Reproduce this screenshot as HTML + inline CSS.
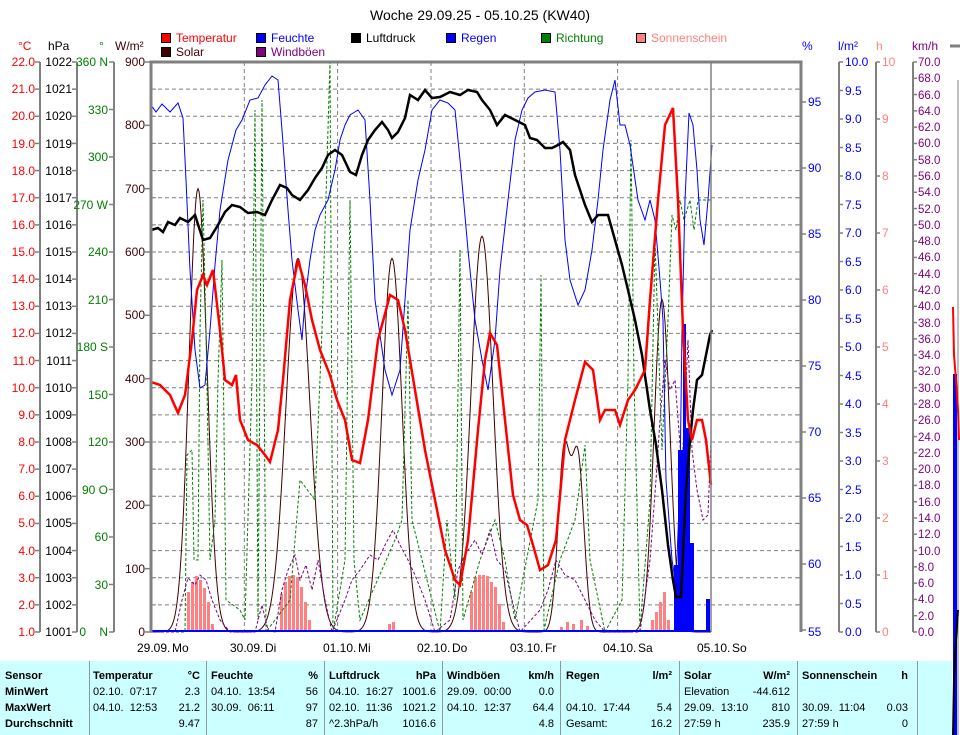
<!DOCTYPE html>
<html><head><meta charset="utf-8"><style>
body{margin:0;width:960px;height:735px;background:#fff;overflow:hidden;position:relative;font-family:"Liberation Sans",sans-serif}
svg{position:absolute;left:0;top:0}
#tbl{position:absolute;left:0;top:661px;width:952px;height:74px;background:#ccffff}
.c{position:absolute;font-size:11px;white-space:nowrap;color:#000}
.b{font-weight:bold}
.r{text-align:right}
.sep{position:absolute;top:0;width:1px;height:74px;background:#8a9a9a}
</style></head><body>
<svg id="s" width="960" height="661" font-family="Liberation Sans, sans-serif" font-size="12">
<text x="480" y="20" text-anchor="middle" font-size="14">Woche 29.09.25 - 05.10.25 (KW40)</text>
<g font-size="12" stroke="#000" stroke-width="1">
<rect x="161.5" y="33.5" width="9" height="9" fill="#ff0000"/>
<rect x="256.5" y="33.5" width="9" height="9" fill="#0000ff"/>
<rect x="351.5" y="33.5" width="9" height="9" fill="#000"/>
<rect x="446.5" y="33.5" width="9" height="9" fill="#0000ff"/>
<rect x="541.5" y="33.5" width="9" height="9" fill="#008000"/>
<rect x="636.5" y="33.5" width="9" height="9" fill="#ff8080"/>
<rect x="161.5" y="47.5" width="9" height="9" fill="#400000"/>
<rect x="256.5" y="47.5" width="9" height="9" fill="#800080"/>
</g>
<g font-size="12">
<text x="176" y="42" fill="#ff0000">Temperatur</text>
<text x="271" y="42" fill="#0000ff">Feuchte</text>
<text x="366" y="42" fill="#000">Luftdruck</text>
<text x="461" y="42" fill="#0000ff">Regen</text>
<text x="556" y="42" fill="#008000">Richtung</text>
<text x="651" y="42" fill="#ff8080">Sonnenschein</text>
<text x="176" y="56" fill="#400000">Solar</text>
<text x="271" y="56" fill="#800080">Windböen</text>
</g>
<text x="18" y="50" fill="#ff0000">°C</text>
<text x="48" y="50" fill="#000">hPa</text>
<text x="99" y="50" fill="#008000">°</text>
<text x="115" y="50" fill="#400000">W/m²</text>
<text x="802" y="50" fill="#0000ff">%</text>
<text x="838" y="50" fill="#0000ff">l/m²</text>
<text x="876" y="50" fill="#ff8080">h</text>
<text x="912" y="50" fill="#800080">km/h</text>
<line x1="950" y1="46" x2="960" y2="46" stroke="#808080" stroke-width="3"/>
<g id="grid"></g>
<g id="axes"></g>
<g id="series"></g>
<g fill="#ff0000" text-anchor="end">
<text x="35" y="66">22.0</text><text x="35" y="93">21.0</text><text x="35" y="120">20.0</text><text x="35" y="148">19.0</text><text x="35" y="175">18.0</text><text x="35" y="202">17.0</text><text x="35" y="229">16.0</text><text x="35" y="256">15.0</text><text x="35" y="283">14.0</text><text x="35" y="310">13.0</text><text x="35" y="337">12.0</text><text x="35" y="365">11.0</text><text x="35" y="392">10.0</text><text x="35" y="419">9.0</text><text x="35" y="446">8.0</text><text x="35" y="473">7.0</text><text x="35" y="500">6.0</text><text x="35" y="527">5.0</text><text x="35" y="555">4.0</text><text x="35" y="582">3.0</text><text x="35" y="609">2.0</text><text x="35" y="636">1.0</text>
</g>
<g fill="#000" text-anchor="end">
<text x="72" y="66">1022</text><text x="72" y="93">1021</text><text x="72" y="120">1020</text><text x="72" y="148">1019</text><text x="72" y="175">1018</text><text x="72" y="202">1017</text><text x="72" y="229">1016</text><text x="72" y="256">1015</text><text x="72" y="283">1014</text><text x="72" y="310">1013</text><text x="72" y="337">1012</text><text x="72" y="365">1011</text><text x="72" y="392">1010</text><text x="72" y="419">1009</text><text x="72" y="446">1008</text><text x="72" y="473">1007</text><text x="72" y="500">1006</text><text x="72" y="527">1005</text><text x="72" y="555">1004</text><text x="72" y="582">1003</text><text x="72" y="609">1002</text><text x="72" y="636">1001</text>
</g>
<g fill="#008000" text-anchor="end">
<text x="108" y="66">360 N</text><text x="108" y="114">330</text><text x="108" y="161">300</text><text x="108" y="209">270 W</text><text x="108" y="256">240</text><text x="108" y="304">210</text><text x="108" y="351">180 S</text><text x="108" y="399">150</text><text x="108" y="446">120</text><text x="108" y="494">90 O</text><text x="108" y="541">60</text><text x="108" y="589">30</text><text x="86" y="636">0</text><text x="108" y="636">N</text>
</g>
<g fill="#400000" text-anchor="end">
<text x="145" y="66">900</text><text x="145" y="129">800</text><text x="145" y="193">700</text><text x="145" y="256">600</text><text x="145" y="319">500</text><text x="145" y="383">400</text><text x="145" y="446">300</text><text x="145" y="509">200</text><text x="145" y="573">100</text><text x="145" y="636">0</text>
</g>
<g fill="#0000ff">
<text x="808" y="106">95</text><text x="808" y="172">90</text><text x="808" y="238">85</text><text x="808" y="304">80</text><text x="808" y="370">75</text><text x="808" y="436">70</text><text x="808" y="502">65</text><text x="808" y="568">60</text><text x="808" y="636">55</text>
</g>
<g fill="#0000ff">
<text x="845" y="66">10.0</text><text x="845" y="95">9.5</text><text x="845" y="123">9.0</text><text x="845" y="152">8.5</text><text x="845" y="180">8.0</text><text x="845" y="209">7.5</text><text x="845" y="237">7.0</text><text x="845" y="266">6.5</text><text x="845" y="294">6.0</text><text x="845" y="323">5.5</text><text x="845" y="351">5.0</text><text x="845" y="380">4.5</text><text x="845" y="408">4.0</text><text x="845" y="437">3.5</text><text x="845" y="465">3.0</text><text x="845" y="494">2.5</text><text x="845" y="522">2.0</text><text x="845" y="551">1.5</text><text x="845" y="579">1.0</text><text x="845" y="608">0.5</text><text x="845" y="636">0.0</text>
</g>
<g fill="#ff8080">
<text x="882" y="66">10</text><text x="882" y="123">9</text><text x="882" y="180">8</text><text x="882" y="237">7</text><text x="882" y="294">6</text><text x="882" y="351">5</text><text x="882" y="408">4</text><text x="882" y="465">3</text><text x="882" y="522">2</text><text x="882" y="579">1</text><text x="882" y="636">0</text>
</g>
<g fill="#800080" font-size="11.5">
<text x="918" y="66">70.0</text><text x="918" y="82">68.0</text><text x="918" y="99">66.0</text><text x="918" y="115">64.0</text><text x="918" y="131">62.0</text><text x="918" y="147">60.0</text><text x="918" y="164">58.0</text><text x="918" y="180">56.0</text><text x="918" y="196">54.0</text><text x="918" y="213">52.0</text><text x="918" y="229">50.0</text><text x="918" y="245">48.0</text><text x="918" y="261">46.0</text><text x="918" y="278">44.0</text><text x="918" y="294">42.0</text><text x="918" y="310">40.0</text><text x="918" y="327">38.0</text><text x="918" y="343">36.0</text><text x="918" y="359">34.0</text><text x="918" y="375">32.0</text><text x="918" y="392">30.0</text><text x="918" y="408">28.0</text><text x="918" y="424">26.0</text><text x="918" y="441">24.0</text><text x="918" y="457">22.0</text><text x="918" y="473">20.0</text><text x="918" y="489">18.0</text><text x="918" y="506">16.0</text><text x="918" y="522">14.0</text><text x="918" y="538">12.0</text><text x="918" y="555">10.0</text><text x="918" y="571">8.0</text><text x="918" y="587">6.0</text><text x="918" y="603">4.0</text><text x="918" y="620">2.0</text><text x="918" y="636">0.0</text>
</g>
<g fill="#000">
<text x="137" y="652">29.09.</text><text x="172" y="652">Mo</text>
<text x="230" y="652">30.09.</text><text x="265" y="652">Di</text>
<text x="323" y="652">01.10.</text><text x="358" y="652">Mi</text>
<text x="417" y="652">02.10.</text><text x="452" y="652">Do</text>
<text x="510" y="652">03.10.</text><text x="545" y="652">Fr</text>
<text x="603" y="652">04.10.</text><text x="638" y="652">Sa</text>
<text x="697" y="652">05.10.</text><text x="732" y="652">So</text>
</g>
</svg>
<svg width="960" height="735" style="z-index:2">
<line x1="958" y1="80" x2="958" y2="735" stroke="#808080" stroke-width="1"/>
<rect x="953" y="374" width="4" height="361" fill="#0000ff"/>
<polyline points="953,307 954,355 956,380 958,410 959,440" fill="none" stroke="#ff0000" stroke-width="2"/>
<polyline points="953,735 954,680 956,640 958,610" fill="none" stroke="#000" stroke-width="2"/>
</svg>
<div id="tbl">
<div class="sep" style="left:89px"></div><div class="sep" style="left:206px"></div><div class="sep" style="left:324px"></div><div class="sep" style="left:442px"></div><div class="sep" style="left:560px"></div><div class="sep" style="left:679px"></div><div class="sep" style="left:797px"></div><div class="sep" style="left:917px"></div>
<div class="c b" style="left:5px;top:9px">Sensor</div>
<div class="c b" style="left:5px;top:25px">MinWert</div>
<div class="c b" style="left:5px;top:41px">MaxWert</div>
<div class="c b" style="left:5px;top:57px">Durchschnitt</div>

<div class="c b" style="left:93px;top:9px">Temperatur</div><div class="c b r" style="right:752px;top:9px">°C</div>
<div class="c" style="left:93px;top:25px">02.10.&nbsp; 07:17</div><div class="c r" style="right:752px;top:25px">2.3</div>
<div class="c" style="left:93px;top:41px">04.10.&nbsp; 12:53</div><div class="c r" style="right:752px;top:41px">21.2</div>
<div class="c r" style="right:752px;top:57px">9.47</div>

<div class="c b" style="left:211px;top:9px">Feuchte</div><div class="c b r" style="right:634px;top:9px">%</div>
<div class="c" style="left:211px;top:25px">04.10.&nbsp; 13:54</div><div class="c r" style="right:634px;top:25px">56</div>
<div class="c" style="left:211px;top:41px">30.09.&nbsp; 06:11</div><div class="c r" style="right:634px;top:41px">97</div>
<div class="c r" style="right:634px;top:57px">87</div>

<div class="c b" style="left:329px;top:9px">Luftdruck</div><div class="c b r" style="right:516px;top:9px">hPa</div>
<div class="c" style="left:329px;top:25px">04.10.&nbsp; 16:27</div><div class="c r" style="right:516px;top:25px">1001.6</div>
<div class="c" style="left:329px;top:41px">02.10.&nbsp; 11:36</div><div class="c r" style="right:516px;top:41px">1021.2</div>
<div class="c" style="left:329px;top:57px">^2.3hPa/h</div><div class="c r" style="right:516px;top:57px">1016.6</div>

<div class="c b" style="left:447px;top:9px">Windböen</div><div class="c b r" style="right:398px;top:9px">km/h</div>
<div class="c" style="left:447px;top:25px">29.09.&nbsp; 00:00</div><div class="c r" style="right:398px;top:25px">0.0</div>
<div class="c" style="left:447px;top:41px">04.10.&nbsp; 12:37</div><div class="c r" style="right:398px;top:41px">64.4</div>
<div class="c r" style="right:398px;top:57px">4.8</div>

<div class="c b" style="left:566px;top:9px">Regen</div><div class="c b r" style="right:280px;top:9px">l/m²</div>
<div class="c" style="left:566px;top:41px">04.10.&nbsp; 17:44</div><div class="c r" style="right:280px;top:41px">5.4</div>
<div class="c" style="left:566px;top:57px">Gesamt:</div><div class="c r" style="right:280px;top:57px">16.2</div>

<div class="c b" style="left:684px;top:9px">Solar</div><div class="c b r" style="right:162px;top:9px">W/m²</div>
<div class="c" style="left:684px;top:25px">Elevation</div><div class="c r" style="right:162px;top:25px">-44.612</div>
<div class="c" style="left:684px;top:41px">29.09.&nbsp; 13:10</div><div class="c r" style="right:162px;top:41px">810</div>
<div class="c" style="left:684px;top:57px">27:59 h</div><div class="c r" style="right:162px;top:57px">235.9</div>

<div class="c b" style="left:802px;top:9px">Sonnenschein</div><div class="c b r" style="right:44px;top:9px">h</div>
<div class="c" style="left:802px;top:41px">30.09.&nbsp; 11:04</div><div class="c r" style="right:44px;top:41px">0.03</div>
<div class="c" style="left:802px;top:57px">27:59 h</div><div class="c r" style="right:44px;top:57px">0</div>
</div>
<script>
var NS="http://www.w3.org/2000/svg";
function el(p,t,a){var e=document.createElementNS(NS,t);for(var k in a)e.setAttribute(k,a[k]);p.appendChild(e);return e;}
var g=document.getElementById('grid'),ax=document.getElementById('axes'),se=document.getElementById('series');
for(var i=1;i<21;i++){var y=62+i*570/21;el(g,'line',{x1:151,x2:801,y1:y,y2:y,stroke:'#808080','stroke-dasharray':'4,3'});}
[244.3,337.6,431,524.3,617.6].forEach(function(x){el(g,'line',{x1:x,x2:x,y1:62,y2:632,stroke:'#808080','stroke-dasharray':'4,3'});});
function vax(x){el(ax,'line',{x1:x,x2:x,y1:62,y2:632,stroke:'#808080','stroke-width':2});}
vax(40);vax(77);vax(114);vax(839);vax(876);vax(913);
function ticks(x1,x2,y0,n,step){for(var i=0;i<=n;i++){var y=y0+i*step;el(ax,'line',{x1:x1,x2:x2,y1:y,y2:y,stroke:'#808080','stroke-width':1.5});}}
ticks(35,40,62,21,570/21);ticks(72,77,62,21,570/21);ticks(109,114,62,12,47.5);ticks(145,151,62,9,570/9);
ticks(801,806,102,8,66);ticks(839,843,62,20,28.5);ticks(876,880,62,10,57);ticks(913,917,62,35,570/35);
for(var i=1;i<21;i++){var y=62+i*570/21;el(ax,'line',{x1:151,x2:156,y1:y,y2:y,stroke:'#808080'});el(ax,'line',{x1:796,x2:801,y1:y,y2:y,stroke:'#808080'});}
var sun=[[187,40],[191,50],[195,56],[199,52],[203,44],[207,30],[211,8],
[280,38],[284,50],[288,56],[292,57],[296,55],[300,45],[304,30],[308,12],
[388,8],[392,10],
[470,40],[474,55],[478,57],[482,57],[486,56],[490,50],[494,45],[498,28],[502,10],
[560,5],[566,10],[572,8],[580,12],[586,6],
[651,12],[655,20],[659,30],[663,40],[667,12]];
sun.forEach(function(b){el(se,'rect',{x:b[0],y:632-b[1],width:3,height:b[1],fill:'#ff8080'});});
var pk=[[198,700,9],[298,590,12],[392,590,10],[482,625,11],[564,280,6],[578,270,6],[662,525,8]];
var sp=[];for(var x=151;x<=711;x++){var w=0;pk.forEach(function(p){w+=p[1]*Math.exp(-Math.pow((x-p[0])/p[2],2)/2);});sp.push(x+','+(632-w*0.6333).toFixed(1));}
el(se,'polyline',{points:sp.join(' '),fill:'none',stroke:'#400000','stroke-width':1});
el(se,'polyline',{points:'151,632 185,632 187,455 192,450 194,560 198,560 200,330 203,200 206,330 210,560 215,520 218,380 222,260 226,600 240,610 245,620 252,380 255,110 258,620 262,100 266,632 290,600 300,480 315,500 322,330 330,62 333,632 345,560 350,200 354,560 360,620 395,540 402,520 408,300 412,520 440,632 447,520 455,600 460,250 463,620 480,560 495,520 505,560 515,620 538,500 541,275 544,630 560,560 575,520 585,445 590,560 605,632 622,600 628,380 631,140 634,380 640,630 650,500 655,240 662,450 668,320 672,215 676,230 680,200 684,220 690,200 694,230 698,200 704,200 711,200',fill:'none',stroke:'#008000','stroke-dasharray':'3,2'});
el(se,'polyline',{points:'151,632 175,632 182,600 188,578 195,585 200,575 206,580 212,600 220,620 230,632 255,632 262,605 268,630 275,632 282,590 288,570 295,555 300,580 306,565 312,590 318,560 325,600 332,632 345,600 352,580 360,570 370,555 378,560 385,545 393,530 400,545 408,560 415,575 425,600 435,632 450,620 458,570 465,555 475,540 482,555 490,530 497,560 505,570 512,600 520,632 540,610 548,590 556,560 565,575 575,580 585,600 595,620 605,632 640,632 650,560 656,480 660,420 665,360 670,390 675,380 682,470 688,340 692,450 697,490 703,520 708,515 711,440',fill:'none',stroke:'#800080','stroke-dasharray':'3,2'});
[[674,565,4],[678,450,5],[683,324,3],[686,428,4],[690,543,4],[706,599,4]].forEach(function(b){el(se,'rect',{x:b[0],y:b[1],width:b[2],height:632-b[1],fill:'#0000ff'});});
el(se,'line',{x1:151,x2:711,y1:631,y2:631,stroke:'#0000ff','stroke-width':2});
el(se,'polyline',{points:'151,105 156,112 162,104 170,112 178,103 183,118 186,180 190,270 195,350 200,388 205,385 210,330 215,265 220,210 228,160 236,130 242,120 250,100 258,98 265,85 272,76 278,80 282,130 288,210 292,260 298,310 302,340 305,300 310,260 315,230 320,215 328,200 335,170 340,140 345,125 350,115 358,110 365,120 370,200 375,300 385,370 392,395 400,370 405,300 410,230 418,180 425,150 432,110 440,100 448,103 455,110 460,160 468,250 475,320 482,360 488,390 495,340 500,270 508,200 515,140 522,110 528,98 535,92 545,90 555,92 560,150 565,240 570,280 578,305 585,290 592,250 598,200 603,150 610,100 615,80 620,125 625,125 630,145 638,200 645,220 650,200 655,220 660,280 663,320 666,480 672,560 676,585 680,480 682,330 685,200 689,113 693,125 697,170 700,220 704,245 708,200 712,145',fill:'none',stroke:'#0000ff','stroke-width':1});
el(se,'polyline',{points:'151,230 158,228 163,232 168,222 175,225 180,218 188,222 195,215 203,240 210,238 218,225 225,212 232,205 240,207 248,213 257,212 265,215 272,200 280,185 287,188 292,195 300,200 308,190 315,178 322,168 328,155 335,150 342,155 350,172 356,175 362,155 368,140 375,130 382,122 388,130 392,138 398,132 405,118 410,95 418,100 425,90 432,98 440,97 450,92 460,95 468,90 477,92 482,100 490,110 497,125 505,115 515,120 525,125 530,138 537,140 545,148 552,148 558,145 563,142 570,150 575,175 585,205 592,222 598,215 608,215 615,240 622,265 628,290 635,320 642,355 650,410 656,445 662,490 668,545 673,580 676,597 681,597 686,490 690,440 693,410 697,380 702,375 706,355 710,335 712,330',fill:'none',stroke:'#000','stroke-width':2.5});
el(se,'polyline',{points:'151,382 160,385 170,395 178,413 185,395 192,340 197,290 203,275 207,285 213,270 220,330 225,380 232,385 236,375 240,420 248,440 257,445 265,455 270,462 278,430 283,380 290,300 298,260 305,285 312,320 320,350 330,375 337,400 345,420 352,460 360,463 368,420 378,340 390,295 398,300 405,330 415,390 425,450 435,500 445,550 455,580 460,585 468,540 478,430 485,360 490,333 497,345 505,420 513,495 520,520 527,525 533,545 540,570 548,565 556,540 565,440 575,400 585,362 593,370 600,420 605,410 615,410 620,425 628,400 635,390 645,370 650,300 658,200 665,125 673,108 678,200 683,330 688,420 692,440 697,420 702,420 706,440 711,485',fill:'none',stroke:'#ff0000','stroke-width':2.5});
el(se,'line',{x1:711,x2:711,y1:62,y2:632,stroke:'#808080','stroke-width':1.5});
el(se,'polyline',{points:'151,632 151,62 801,62 801,632',fill:'none',stroke:'#808080','stroke-width':3});
</script>
</body></html>
